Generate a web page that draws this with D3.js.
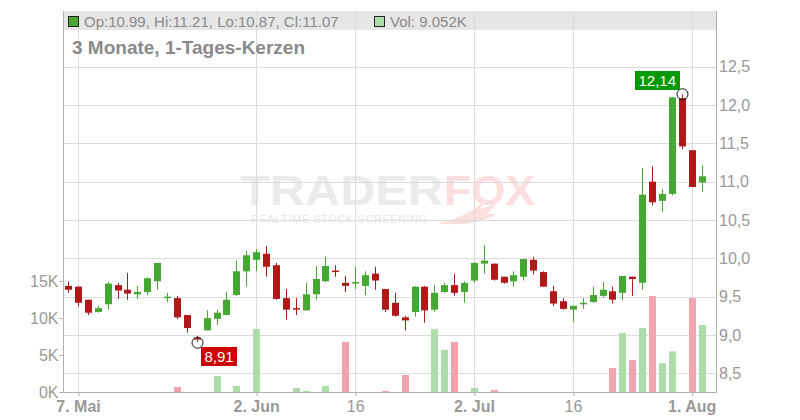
<!DOCTYPE html>
<html>
<head>
<meta charset="utf-8">
<script src="https://cdn.jsdelivr.net/npm/d3@7"></script>
<style>
  html, body { margin: 0; padding: 0; background: #fff; }
  svg { display: block; font-family: "Liberation Sans", Arial, sans-serif; }
</style>
</head>
<body>
<svg id="chart" width="800" height="420"></svg>
<script>
// ---------------- DATA ----------------
const dates = [
  "06.05","07.05","08.05","09.05","12.05","13.05","14.05","15.05","16.05","19.05",
  "20.05","21.05","22.05","23.05","26.05","27.05","28.05","29.05","30.05","02.06",
  "03.06","04.06","05.06","06.06","09.06","10.06","11.06","12.06","13.06","16.06",
  "17.06","18.06","19.06","20.06","23.06","24.06","25.06","26.06","27.06","30.06",
  "01.07","02.07","03.07","04.07","07.07","08.07","09.07","10.07","11.07","14.07",
  "15.07","16.07","17.07","18.07","21.07","22.07","23.07","24.07","25.07","28.07",
  "29.07","30.07","31.07","01.08","04.08"
];
const open = [
  9.64,9.63,9.46,9.30,9.40,9.65,9.59,9.53,9.56,9.70,
  9.49,9.48,9.26,8.96,9.06,9.21,9.26,9.52,9.83,9.98,
  10.06,9.91,9.48,9.35,9.32,9.53,9.70,9.84,9.68,9.67,
  9.64,9.80,9.60,9.42,9.23,9.30,9.63,9.33,9.56,9.65,
  9.56,9.71,9.93,9.93,9.76,9.70,9.76,9.98,9.82,9.57,
  9.44,9.33,9.40,9.43,9.51,9.57,9.55,9.76,9.68,11.00,
  10.75,10.84,12.09,11.41,10.99
];
const high = [
  9.70,9.64,9.46,9.38,9.69,9.68,9.81,9.64,9.75,9.94,
  9.55,9.51,9.26,8.99,9.32,9.33,9.56,9.97,10.10,10.12,
  10.16,9.94,9.60,9.48,9.68,9.90,10.02,9.91,9.77,9.89,
  9.83,9.89,9.60,9.55,9.25,9.64,9.64,9.65,9.68,9.80,
  9.70,9.95,10.17,9.93,9.76,9.83,9.99,10.02,9.83,9.64,
  9.48,9.38,9.48,9.63,9.69,9.63,9.77,9.76,11.18,11.20,
  10.90,12.10,12.14,11.41,11.21
];
const low = [
  9.55,9.37,9.26,9.29,9.33,9.47,9.46,9.47,9.52,9.59,
  9.43,9.21,9.03,8.91,9.06,9.13,9.26,9.51,9.63,9.83,
  9.76,9.46,9.20,9.26,9.32,9.46,9.69,9.76,9.56,9.60,
  9.52,9.59,9.30,9.24,9.06,9.24,9.16,9.30,9.55,9.51,
  9.42,9.68,9.80,9.71,9.67,9.63,9.71,9.79,9.63,9.38,
  9.33,9.17,9.34,9.42,9.49,9.41,9.45,9.51,9.59,10.69,
  10.60,10.82,11.42,10.93,10.87
];
const close = [
  9.59,9.42,9.29,9.35,9.67,9.58,9.54,9.56,9.74,9.94,
  9.50,9.23,9.09,8.95,9.22,9.29,9.46,9.83,10.04,10.08,
  9.89,9.47,9.33,9.34,9.53,9.73,9.90,9.83,9.64,9.69,
  9.78,9.71,9.33,9.25,9.19,9.63,9.32,9.55,9.65,9.55,
  9.68,9.94,9.97,9.72,9.68,9.78,9.99,9.84,9.63,9.41,
  9.34,9.38,9.42,9.52,9.59,9.46,9.77,9.73,10.83,10.73,
  10.84,12.10,11.46,10.93,11.07
];
// volume in thousands
const volumeK = [
  0,0,0,0,0,0,0,0,0,0,
  0,0.68,0,0,0,2.16,0,0.81,0,8.5,
  0,0,0,0.54,0.14,0,0.81,0,6.76,0,
  0,0,0.14,0,2.3,0,0,8.5,5.7,6.76,
  0,0.54,0,0.27,0,0,0,0,0,0,
  0,0,0,0,0,3.24,7.97,4.32,8.65,12.97,
  3.9,5.5,0,12.7,9.052
];
const xTickIndex  = [1, 19, 29, 41, 51, 63];
const xTickLabels = ["7. Mai", "2. Jun", "16", "2. Jul", "16", "1. Aug"];
const xTickBold   = [true, true, false, true, false, true];
const priceTicks  = [8.5, 9.0, 9.5, 10.0, 10.5, 11.0, 11.5, 12.0, 12.5];
const volumeTicks = [0, 5, 10, 15];
const title = "3 Monate, 1-Tages-Kerzen";
const lastInfo = { op: 10.99, hi: 11.21, lo: 10.87, cl: 11.07, vol: "9.052K" };

// ---------------- LAYOUT ----------------
const L = 63.5, R = 716, T = 11, B = 392;
const C = {
  up: "#46a832", down: "#b31818",
  volUp: "#acdcaa", volDown: "#f0a4ad",
  grid: "#dcdcdc", axis: "#b0b0b0", text: "#999", head: "#8a8a8a",
  band: "#e6e6e6"
};
const FONT = '"Liberation Sans", Arial, sans-serif';

const svg = d3.select("#chart");
const x = d3.scaleLinear().domain([-0.465, 65.46]).range([L, R]);
const y = d3.scaleLinear().domain([8.256, 13.226]).range([B, T]);
const yv = d3.scaleLinear().domain([0, 51.5]).range([B, T]);

const candles = dates.map((d, i) => ({
  i, d, o: open[i], h: high[i], l: low[i], c: close[i], v: volumeK[i]
}));

// header band
svg.append("rect").attr("x", L).attr("y", T).attr("width", R - L).attr("height", 19).attr("fill", C.band);

// watermark
const wm = svg.append("g").attr("font-family", FONT);
wm.append("text").attr("x", 240).attr("y", 205).attr("font-size", 42).attr("font-weight", "bold")
  .attr("fill", "#ebebeb").attr("textLength", 203).attr("lengthAdjust", "spacingAndGlyphs").text("TRADER");
wm.append("text").attr("x", 444).attr("y", 205).attr("font-size", 42).attr("font-weight", "bold")
  .attr("fill", "#fbdede").attr("textLength", 91).attr("lengthAdjust", "spacingAndGlyphs").text("FOX");
wm.append("text").attr("x", 251).attr("y", 223).attr("font-size", 10.5)
  .attr("fill", "#e6e6e6").attr("textLength", 176).attr("lengthAdjust", "spacing").text("REALTIME STOCK SCREENING");
wm.append("path").attr("d", "M437,223 Q468,218 488,197 L480,209 L496,204 L487,214 L497,214 Q472,228 437,223 Z")
  .attr("fill", "#fbdede");

// grid lines
svg.append("g").selectAll("line").data(xTickIndex).join("line")
  .attr("x1", d => Math.round(x(d)) + 0.5).attr("x2", d => Math.round(x(d)) + 0.5)
  .attr("y1", T).attr("y2", B).attr("stroke", C.grid);
svg.append("g").selectAll("line").data(priceTicks).join("line")
  .attr("x1", L).attr("x2", R)
  .attr("y1", d => Math.round(y(d)) + 0.5).attr("y2", d => Math.round(y(d)) + 0.5)
  .attr("stroke", C.grid);

// header texts
const fmt = v => d3.format(".2f")(v);
svg.append("rect").attr("x", 68.5).attr("y", 16.5).attr("width", 10).attr("height", 10)
  .attr("fill", C.up).attr("stroke", "#222");
svg.append("text").attr("x", 84).attr("y", 26.5).attr("font-family", FONT).attr("font-size", 15)
  .attr("fill", C.head)
  .text(`Op:${fmt(lastInfo.op)}, Hi:${fmt(lastInfo.hi)}, Lo:${fmt(lastInfo.lo)}, Cl:${fmt(lastInfo.cl)}`);
svg.append("rect").attr("x", 374.5).attr("y", 16.5).attr("width", 10).attr("height", 10)
  .attr("fill", C.volUp).attr("stroke", "#222");
svg.append("text").attr("x", 390).attr("y", 26.5).attr("font-family", FONT).attr("font-size", 15)
  .attr("fill", C.head).text(`Vol: ${lastInfo.vol}`);
svg.append("text").attr("x", 72).attr("y", 54).attr("font-family", FONT).attr("font-size", 19)
  .attr("font-weight", "bold").attr("fill", C.head).text(title);

// volume bars
const volUp = d => d.i === 0 ? d.c >= d.o : d.c >= close[d.i - 1];
svg.append("g").selectAll("rect").data(candles.filter(d => d.v > 0)).join("rect")
  .attr("x", d => Math.round(x(d.i)) - 3).attr("width", 7)
  .attr("y", d => yv(d.v)).attr("height", d => B - yv(d.v))
  .attr("fill", d => volUp(d) ? C.volUp : C.volDown);

// candles
const cg = svg.append("g").selectAll("g").data(candles).join("g");
cg.append("line")
  .attr("x1", d => Math.round(x(d.i)) + 0.5).attr("x2", d => Math.round(x(d.i)) + 0.5)
  .attr("y1", d => y(d.h)).attr("y2", d => y(d.l))
  .attr("stroke", d => d.c >= d.o ? C.up : C.down).attr("stroke-width", 1);
cg.append("rect")
  .attr("x", d => Math.round(x(d.i)) - 3).attr("width", 7)
  .attr("y", d => y(Math.max(d.o, d.c)))
  .attr("height", d => Math.max(1.5, Math.abs(y(d.o) - y(d.c))))
  .attr("fill", d => d.c >= d.o ? C.up : C.down);

// axes
const axisStyle = g => {
  g.select(".domain").remove();
  g.selectAll("text").attr("font-family", FONT).attr("font-size", 16).attr("fill", C.text);
  g.selectAll(".tick line").attr("stroke", C.axis);
};
svg.append("g").attr("transform", `translate(${R},0)`)
  .call(d3.axisRight(y).tickValues(priceTicks).tickSize(0).tickPadding(3)
    .tickFormat(d => d3.format(".1f")(d).replace(".", ",")))
  .call(axisStyle);
svg.append("g").attr("transform", `translate(${L},0)`)
  .call(d3.axisLeft(yv).tickValues(volumeTicks).tickSize(4).tickPadding(1).tickFormat(d => d + "K"))
  .call(axisStyle);
const xa = svg.append("g").attr("transform", `translate(0,${B})`)
  .call(d3.axisBottom(x).tickValues(xTickIndex).tickSize(4).tickPadding(5)
    .tickFormat((d, k) => xTickLabels[k]))
  .call(axisStyle);
xa.selectAll(".tick text").attr("font-weight", (d, k) => xTickBold[k] ? "bold" : "normal");
xa.selectAll(".tick line").attr("transform", "translate(0.5,0)");

// axis lines
svg.append("line").attr("x1", L).attr("x2", L).attr("y1", T).attr("y2", B + 0.5).attr("stroke", C.axis);
svg.append("line").attr("x1", R + 0.5).attr("x2", R + 0.5).attr("y1", T).attr("y2", B + 0.5).attr("stroke", C.axis);
svg.append("line").attr("x1", L).attr("x2", R + 0.5).attr("y1", B + 0.5).attr("y2", B + 0.5).attr("stroke", C.axis);

// min / max markers
const iMin = d3.minIndex(low), iMax = d3.maxIndex(high);
const comma = v => d3.format(".2f")(v).replace(".", ",");
function marker(i, val, isMax) {
  const cx = Math.round(x(i)) + 0.5, cy = y(val);
  svg.append("circle").attr("cx", cx).attr("cy", cy + (isMax ? 0 : 0.8)).attr("r", 5.5)
    .attr("fill", "none").attr("stroke", "#111").attr("stroke-width", 1);
  const label = comma(val);
  const t = svg.append("text").attr("font-family", FONT).attr("font-size", 15)
    .attr("fill", "#fff").text(label);
  const w = t.node().getComputedTextLength() + 7, h = 19;
  const bx = isMax ? cx - 2.5 - w : cx + 3;
  const by = isMax ? cy - 4 - h : cy + 5;
  svg.insert("rect", () => t.node()).attr("x", Math.round(bx)).attr("y", Math.round(by))
    .attr("width", Math.round(w)).attr("height", h)
    .attr("fill", isMax ? "#009900" : "#cc0000");
  t.attr("x", Math.round(bx) + 3.5).attr("y", Math.round(by) + 15);
}
marker(iMin, low[iMin], false);
marker(iMax, high[iMax], true);
</script>
</body>
</html>
